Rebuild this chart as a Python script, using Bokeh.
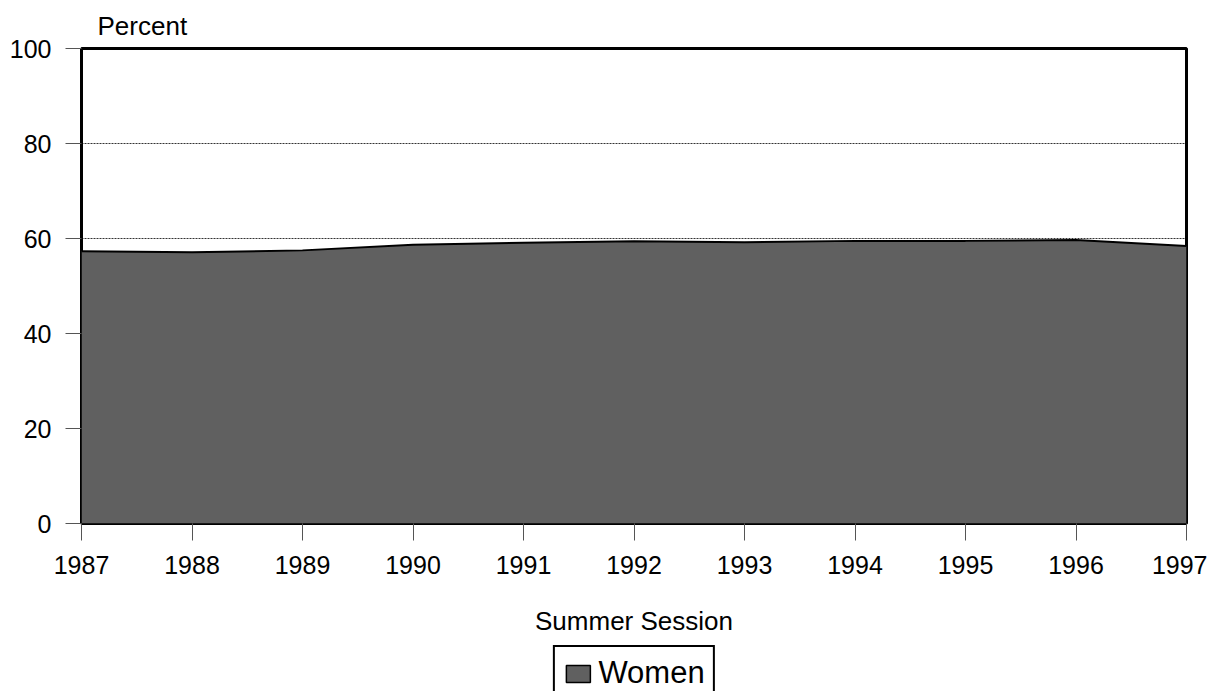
from bokeh.plotting import figure
from bokeh.layouts import column
from bokeh.models import Range1d, FixedTicker, Title, Legend, LegendItem, ColumnDataSource
from bokeh.embed import file_html
from bokeh.resources import INLINE

years = [1987, 1988, 1989, 1990, 1991, 1992, 1993, 1994, 1995, 1996, 1997]
women = [57.3, 57.1, 57.5, 58.7, 59.1, 59.4, 59.2, 59.5, 59.5, 59.7, 58.4]
y_ticks = [0, 20, 40, 60, 80, 100]
series_name = "Women"

FONT = "Liberation Sans"
FILL = "#606060"

src = ColumnDataSource(dict(x=years, y=women, z=[0] * len(years)))

p = figure(width=1207, height=645, output_backend="svg", toolbar_location=None,
           x_range=Range1d(1987, 1997), y_range=Range1d(0, 100),
           min_border_left=81, min_border_top=48, min_border_right=21, min_border_bottom=122)
p.background_fill_color = "white"
p.border_fill_color = "white"
p.outline_line_color = "black"
p.outline_line_width = 3

p.varea(x="x", y1="z", y2="y", source=src, fill_color=FILL)
p.line(x="x", y="y", source=src, line_color="black", line_width=2)

p.xaxis.ticker = FixedTicker(ticks=years)
p.yaxis.ticker = FixedTicker(ticks=y_ticks)
for ax in (p.xaxis[0], p.yaxis[0]):
    ax.axis_line_color = None
    ax.major_tick_in = 0
    ax.major_tick_out = 16
    ax.major_tick_line_color = "#555555"
    ax.major_tick_line_width = 1
    ax.minor_tick_line_color = None
    ax.major_label_text_font = FONT
    ax.major_label_text_font_size = "25px"
    ax.major_label_text_color = "black"
p.xaxis.major_tick_out = 17
p.xaxis.major_label_standoff = 15
p.yaxis.major_label_standoff = 14
p.xaxis.axis_label = "Summer Session"
p.xaxis.axis_label_text_font = FONT
p.xaxis.axis_label_text_font_size = "26px"
p.xaxis.axis_label_text_font_style = "normal"
p.xaxis.axis_label_text_color = "black"
p.xaxis.axis_label_standoff = 29

p.xgrid.grid_line_color = None
p.ygrid.ticker = FixedTicker(ticks=[20, 40, 60, 80])
p.ygrid.grid_line_color = "black"
p.ygrid.grid_line_width = 1
p.ygrid.grid_line_dash = "2 1"
p.ygrid.grid_line_alpha = 0.8

p.add_layout(Title(text="Percent", align="left", offset=16, standoff=16,
                   text_font=FONT, text_font_size="26px", text_color="black",
                   text_font_style="normal"), "above")

# legend strip below the chart (its proxy glyph lies outside the strip's visible range)
q = figure(width=1207, height=46, output_backend="svg", toolbar_location=None,
           x_range=Range1d(0, 1), y_range=Range1d(0, 1),
           min_border_left=81, min_border_right=21, min_border_top=0, min_border_bottom=0)
q.axis.visible = False
q.grid.visible = False
q.outline_line_color = None
q.border_fill_color = "white"
q.background_fill_color = "white"
swatch = q.quad(left="l", right="r", top="t", bottom="b",
                source=ColumnDataSource(dict(l=[years[0]], r=[years[-1]], t=[women[0]], b=[0])),
                fill_color=FILL, line_color="black", line_width=1.5)
legend = Legend(items=[LegendItem(label=series_name, renderers=[swatch])],
                location="top_center", orientation="horizontal",
                label_text_font=FONT, label_text_font_size="31px", label_text_color="black",
                glyph_width=30, glyph_height=21, label_standoff=6,
                padding=8, margin=0, spacing=0,
                border_line_color="black", border_line_width=2, border_line_alpha=1.0,
                background_fill_color="white", background_fill_alpha=1.0)
q.add_layout(legend, "center")

layout = column(p, q, spacing=0)
open("out.html", "w").write(file_html(layout, INLINE))
